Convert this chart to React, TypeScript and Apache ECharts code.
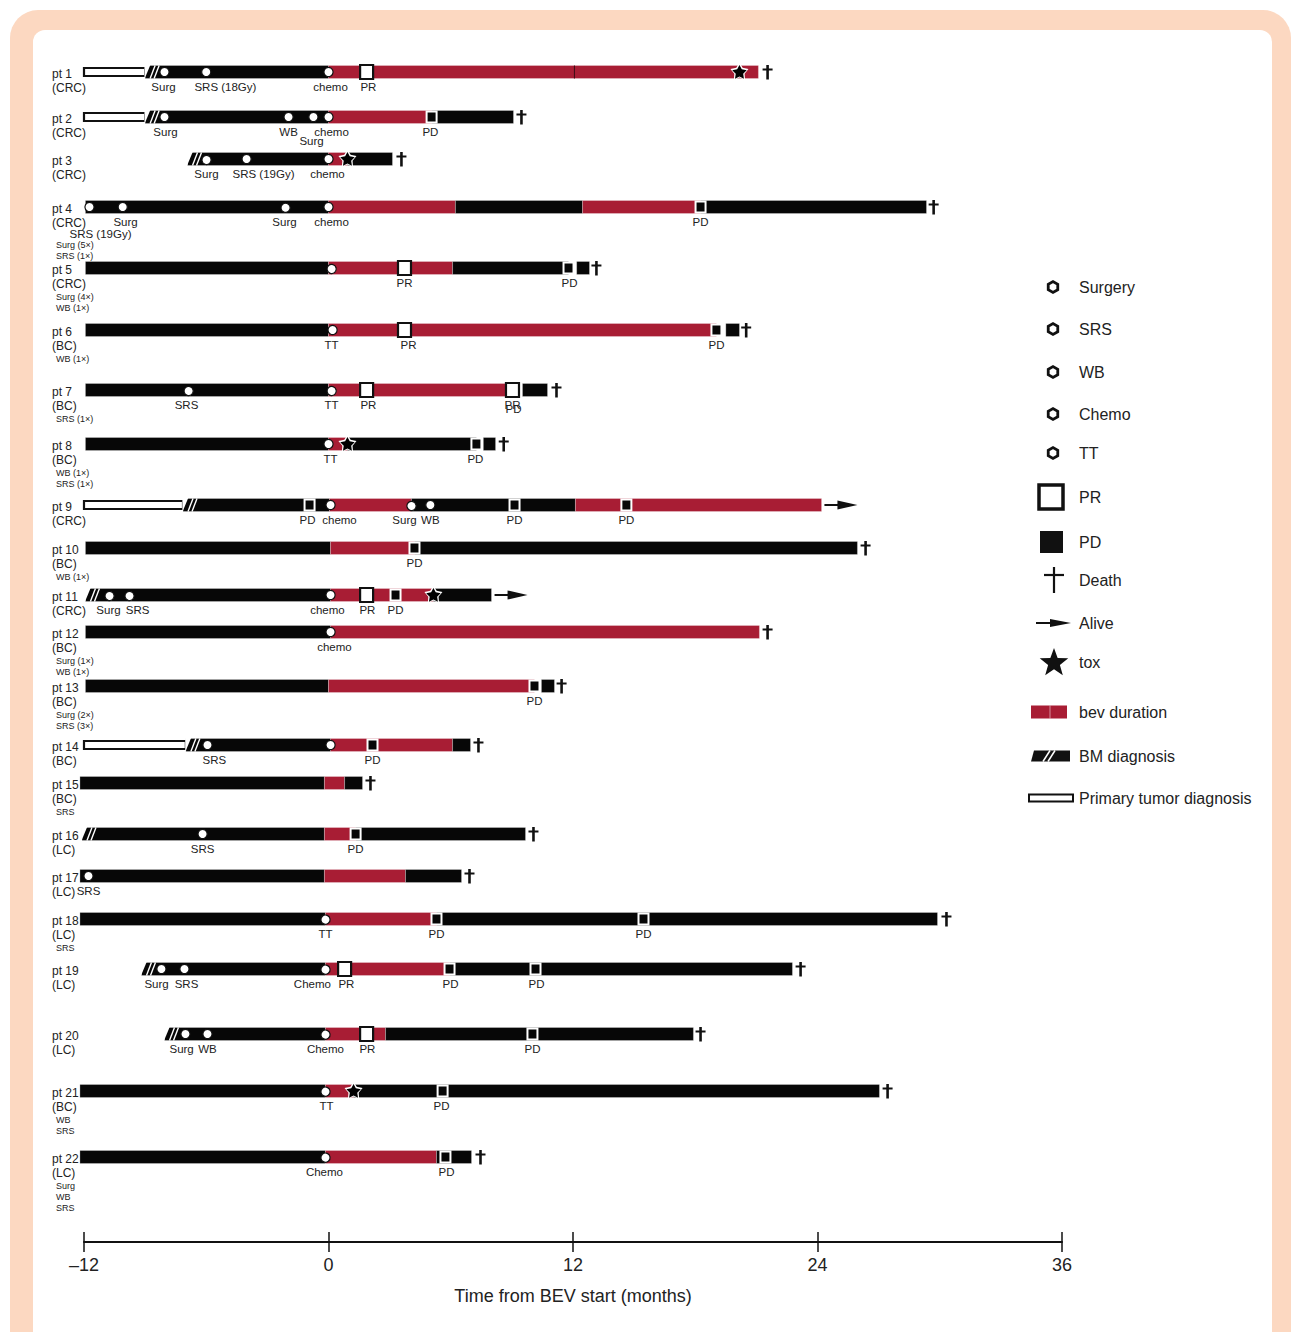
import React, { useEffect, useRef } from "react";
import * as echarts from "echarts";

// ---------- data ----------
const PATIENTS = ["pt 1","pt 2","pt 3","pt 4","pt 5","pt 6","pt 7","pt 8","pt 9","pt 10","pt 11","pt 12","pt 13","pt 14","pt 15","pt 16","pt 17","pt 18","pt 19","pt 20","pt 21","pt 22"];
const TUMOR = ["(CRC)","(CRC)","(CRC)","(CRC)","(CRC)","(BC)","(BC)","(BC)","(CRC)","(BC)","(CRC)","(BC)","(BC)","(BC)","(BC)","(LC)","(LC)","(LC)","(LC)","(LC)","(BC)","(LC)"];
const NOTES: [number, string[]][] = [
  [4, ["Surg (5×)", "SRS (1×)"]],
  [5, ["Surg (4×)", "WB (1×)"]],
  [6, ["WB (1×)"]],
  [7, ["SRS (1×)"]],
  [8, ["WB (1×)", "SRS (1×)"]],
  [10, ["WB (1×)"]],
  [12, ["Surg (1×)", "WB (1×)"]],
  [13, ["Surg (2×)", "SRS (3×)"]],
  [15, ["SRS"]],
  [18, ["SRS"]],
  [21, ["WB", "SRS"]],
  [22, ["Surg", "WB", "SRS"]],
];
const X_TICKS = [-12, 0, 12, 24, 36];

// [patient, start month, end month, kind]
const SEGMENTS: [number, number, number, string][] = [
  [1,-12,-9.0,"primary"],[1,-9.0,0,"black"],[1,0,21.1,"red"],
  [2,-12,-9.0,"primary"],[2,-9.0,0,"black"],[2,0,5.06,"red"],[2,5.06,9.08,"black"],
  [3,-6.92,0,"black"],[3,0,0.93,"red"],[3,0.93,3.14,"black"],
  [4,-11.93,0,"black"],[4,0,6.23,"red"],[4,6.23,12.47,"black"],[4,12.47,18.26,"red"],[4,18.26,29.35,"black"],
  [5,-11.93,0,"black"],[5,0,6.09,"red"],[5,6.09,11.78,"black"],[5,12.18,12.81,"black"],
  [6,-11.93,0,"black"],[6,0,19.04,"red"],[6,19.5,20.17,"black"],
  [7,-11.93,0,"black"],[7,0,9.03,"red"],[7,9.52,10.75,"black"],
  [8,-11.93,0,"black"],[8,0,0.93,"red"],[8,0.93,7.26,"black"],[8,7.6,8.2,"black"],
  [9,-12,-7.14,"primary"],[9,-7.14,0.05,"black"],[9,0.05,4.07,"red"],[9,4.07,12.12,"black"],[9,12.12,24.2,"red"],
  [10,-11.93,0.1,"black"],[10,0.1,4.22,"red"],[10,4.22,25.96,"black"],
  [11,-11.93,0.1,"black"],[11,0.1,5.15,"red"],[11,5.15,8.0,"black"],
  [12,-11.93,0.1,"black"],[12,0.1,21.15,"red"],
  [13,-11.93,0,"black"],[13,0,10.11,"red"],[13,10.45,11.09,"black"],
  [14,-12,-7.0,"primary"],[14,-7.0,0.1,"black"],[14,0.1,6.09,"red"],[14,6.09,6.97,"black"],
  [15,-12.2,-0.2,"black"],[15,-0.2,0.79,"red"],[15,0.79,1.67,"black"],
  [16,-12.1,-0.2,"black"],[16,-0.2,1.33,"red"],[16,1.33,9.67,"black"],
  [17,-12.2,-0.2,"black"],[17,-0.2,3.78,"red"],[17,3.78,6.53,"black"],
  [18,-12.2,-0.15,"black"],[18,-0.15,5.3,"red"],[18,5.3,29.89,"black"],
  [19,-9.18,-0.15,"black"],[19,-0.15,5.94,"red"],[19,5.94,22.77,"black"],
  [20,-8.05,-0.15,"black"],[20,-0.15,2.8,"red"],[20,2.8,17.91,"black"],
  [21,-12.2,-0.15,"black"],[21,-0.15,1.23,"red"],[21,1.23,27.04,"black"],
  [22,-12.2,-0.15,"black"],[22,-0.15,5.3,"red"],[22,5.3,7.02,"black"],
];

// [patient, month, kind]
const EVENTS: [number, number, string][] = [
  [1,-9.0,"bm"],[1,-8.05,"tx"],[1,-6.0,"tx"],[1,0,"tx"],[1,1.87,"PR"],[1,12.07,"sep"],[1,20.17,"tox"],[1,21.55,"death"],
  [2,-9.0,"bm"],[2,-8.05,"tx"],[2,-1.96,"tx"],[2,-0.74,"tx"],[2,0,"tx"],[2,5.06,"PD"],[2,9.47,"death"],
  [3,-6.92,"bm"],[3,-5.99,"tx"],[3,-4.02,"tx"],[3,0,"tx"],[3,0.93,"tox"],[3,3.58,"death"],
  [4,-11.73,"tx"],[4,-10.1,"tx"],[4,-2.11,"tx"],[4,0,"tx"],[4,18.26,"PD"],[4,29.7,"death"],
  [5,0.15,"tx"],[5,3.73,"PR"],[5,11.78,"PD"],[5,13.15,"death"],
  [6,0.2,"tx"],[6,3.73,"PR"],[6,19.04,"PD"],[6,20.5,"death"],
  [7,-6.87,"tx"],[7,0.15,"tx"],[7,1.87,"PR"],[7,9.03,"PR"],[7,11.19,"death"],
  [8,0,"tx"],[8,0.93,"tox"],[8,7.26,"PD"],[8,8.6,"death"],
  [9,-7.14,"bm"],[9,-0.93,"PD"],[9,0.1,"tx"],[9,4.07,"tx"],[9,5.0,"tx"],[9,9.13,"PD"],[9,14.62,"PD"],[9,24.34,"alive"],
  [10,4.22,"PD"],[10,26.36,"death"],
  [11,-11.93,"bm"],[11,-10.75,"tx"],[11,-9.77,"tx"],[11,0.1,"tx"],[11,1.87,"PR"],[11,3.29,"PD"],[11,5.15,"tox"],[11,8.15,"alive"],
  [12,0.1,"tx"],[12,21.55,"death"],
  [13,10.11,"PD"],[13,11.44,"death"],
  [14,-7.0,"bm"],[14,-5.94,"tx"],[14,0.1,"tx"],[14,2.16,"PD"],[14,7.36,"death"],
  [15,2.06,"death"],
  [16,-12.1,"bm"],[16,-6.18,"tx"],[16,1.33,"PD"],[16,10.06,"death"],
  [17,-11.78,"tx"],[17,6.92,"death"],
  [18,-0.15,"tx"],[18,5.3,"PD"],[18,15.46,"PD"],[18,30.33,"death"],
  [19,-9.18,"bm"],[19,-8.2,"tx"],[19,-7.07,"tx"],[19,-0.15,"tx"],[19,0.79,"PR"],[19,5.94,"PD"],[19,10.16,"PD"],[19,23.17,"death"],
  [20,-8.05,"bm"],[20,-7.02,"tx"],[20,-5.94,"tx"],[20,-0.15,"tx"],[20,1.87,"PR"],[20,10.01,"PD"],[20,18.26,"death"],
  [21,-0.15,"tx"],[21,1.23,"tox"],[21,5.6,"PD"],[21,27.44,"death"],
  [22,-0.15,"tx"],[22,5.74,"PD"],[22,7.46,"death"],
];

// [patient, month, text, line]
const EVENT_LABELS: [number, number, string, number][] = [
  [1,-8.1,"Surg",0],[1,-5.06,"SRS (18Gy)",0],[1,0.1,"chemo",0],[1,1.96,"PR",0],
  [2,-8.0,"Surg",0],[2,-1.96,"WB",0],[2,-0.83,"Surg",0.9],[2,0.15,"chemo",0],[2,5.0,"PD",0],
  [3,-5.99,"Surg",0],[3,-3.19,"SRS (19Gy)",0],[3,-0.05,"chemo",0],
  [4,-11.19,"SRS (19Gy)",1.2],[4,-9.96,"Surg",0],[4,-2.16,"Surg",0],[4,0.15,"chemo",0],[4,18.26,"PD",0],
  [5,3.73,"PR",0],[5,11.83,"PD",0],
  [6,0.15,"TT",0],[6,3.93,"PR",0],[6,19.04,"PD",0],
  [7,-6.97,"SRS",0],[7,0.15,"TT",0],[7,1.96,"PR",0],[7,9.03,"PR",0],[7,9.08,"PD",0.45],
  [8,0.1,"TT",0],[8,7.21,"PD",0],
  [9,-1.03,"PD",0],[9,0.54,"chemo",0],[9,3.73,"Surg",0],[9,5.0,"WB",0],[9,9.13,"PD",0],[9,14.62,"PD",0],
  [10,4.22,"PD",0],
  [11,-10.8,"Surg",0],[11,-9.37,"SRS",0],[11,-0.05,"chemo",0],[11,1.91,"PR",0],[11,3.29,"PD",0],
  [12,0.29,"chemo",0],
  [13,10.11,"PD",0],
  [14,-5.6,"SRS",0],[14,2.16,"PD",0],
  [16,-6.18,"SRS",0],[16,1.33,"PD",0],
  [17,-11.78,"SRS",0],
  [18,-0.15,"TT",0],[18,5.3,"PD",0],[18,15.46,"PD",0],
  [19,-8.44,"Surg",0],[19,-6.97,"SRS",0],[19,-0.79,"Chemo",0],[19,0.88,"PR",0],[19,5.99,"PD",0],[19,10.21,"PD",0],
  [20,-7.21,"Surg",0],[20,-5.94,"WB",0],[20,-0.15,"Chemo",0],[20,1.91,"PR",0],[20,10.01,"PD",0],
  [21,-0.1,"TT",0],[21,5.55,"PD",0],
  [22,-0.2,"Chemo",0],[22,5.79,"PD",0],
];

const LEGEND_ITEMS = ["Surgery","SRS","WB","Chemo","TT","PR","PD","Death","Alive","tox","bev duration","BM diagnosis","Primary tumor diagnosis"];

// ---------- layout ----------
const ROW_Y = [32,77,119,167,228,290,350,404,465,508,555,592,646,705,743,794,836,879,929,994,1051,1117];
const LEGEND_Y = [287,329,372,414,453,497,542,580,623,662,712,756,798];
const FONT = "'Liberation Sans', Arial, Helvetica, sans-serif";
const RED = "#a81d34";
const BLACK = "#070707";
const PEACH = "#fcd8c1";
const SEG_KINDS = ["black", "red", "primary"];
const EV_KINDS = ["tx", "PR", "PD", "tox", "death", "alive", "bm", "sep"];

function starPts(cx: number, cy: number, R: number, r: number) {
  const pts: number[][] = [];
  for (let i = 0; i < 10; i++) {
    const a = -Math.PI / 2 + (i * Math.PI) / 5;
    const rad = i % 2 === 0 ? R : r;
    pts.push([cx + rad * Math.cos(a), cy + rad * Math.sin(a)]);
  }
  return pts;
}
function hexPts(cx: number, cy: number, R: number) {
  const pts: number[][] = [];
  for (let i = 0; i < 6; i++) {
    const a = Math.PI / 6 + (i * Math.PI) / 3;
    pts.push([cx + R * Math.cos(a), cy + R * Math.sin(a)]);
  }
  return pts;
}
function txt(text: string, x: number, y: number, size: number, align = "center", color = "#222") {
  return {
    type: "text",
    x, y,
    style: { text, fill: color, fontSize: size, fontFamily: FONT, align, verticalAlign: "middle", textAlign: align, textVerticalAlign: "middle" },
  };
}

function buildLegend() {
  const els: any[] = [];
  const tx = 1079;
  LEGEND_ITEMS.forEach((name, i) => {
    els.push(txt(name, tx, LEGEND_Y[i], 16, "left"));
  });
  for (let i = 0; i < 5; i++) {
    els.push({ type: "polygon", shape: { points: hexPts(1053, LEGEND_Y[i], 5.5) }, style: { fill: "#fff", stroke: "#111", lineWidth: 2.8 } });
  }
  let y = LEGEND_Y[5];
  els.push({ type: "rect", shape: { x: 1039, y: y - 12, width: 24, height: 24 }, style: { fill: "#fff", stroke: "#111", lineWidth: 3.5 } });
  y = LEGEND_Y[6];
  els.push({ type: "rect", shape: { x: 1040, y: y - 11, width: 23, height: 22 }, style: { fill: "#111" } });
  y = LEGEND_Y[7];
  els.push({ type: "line", shape: { x1: 1054, y1: y - 13, x2: 1054, y2: y + 13 }, style: { stroke: "#111", lineWidth: 2.2 } });
  els.push({ type: "line", shape: { x1: 1044, y1: y - 5, x2: 1064, y2: y - 5 }, style: { stroke: "#111", lineWidth: 2.2 } });
  y = LEGEND_Y[8];
  els.push({ type: "line", shape: { x1: 1036, y1: y, x2: 1058, y2: y }, style: { stroke: "#111", lineWidth: 2 } });
  els.push({ type: "polygon", shape: { points: [[1050, y - 4], [1071, y], [1050, y + 4]] }, style: { fill: "#111" } });
  y = LEGEND_Y[9];
  els.push({ type: "polygon", shape: { points: starPts(1054, y + 1, 15, 6.2) }, style: { fill: "#111" } });
  y = LEGEND_Y[10];
  els.push({ type: "rect", shape: { x: 1031, y: y - 6.5, width: 36, height: 13 }, style: { fill: RED } });
  els.push({ type: "line", shape: { x1: 1050, y1: y - 6.5, x2: 1050, y2: y + 6.5 }, style: { stroke: "rgba(255,255,255,0.5)", lineWidth: 1 } });
  y = LEGEND_Y[11];
  els.push({ type: "polygon", shape: { points: [[1031, y + 5.5], [1034, y - 5.5], [1070, y - 5.5], [1070, y + 5.5]] }, style: { fill: "#111" } });
  els.push({ type: "line", shape: { x1: 1043, y1: y + 5.5, x2: 1050, y2: y - 5.5 }, style: { stroke: "#fff", lineWidth: 1.5 } });
  els.push({ type: "line", shape: { x1: 1048, y1: y + 5.5, x2: 1055, y2: y - 5.5 }, style: { stroke: "#fff", lineWidth: 1.5 } });
  y = LEGEND_Y[12];
  els.push({ type: "rect", shape: { x: 1029, y: y - 3.5, width: 44, height: 7 }, style: { fill: "#fff", stroke: "#111", lineWidth: 2 } });
  return els;
}

function renderSegment(params: any, api: any) {
  const s = api.coord([api.value(0), api.value(2)]);
  const e = api.coord([api.value(1), api.value(2)]);
  const k = SEG_KINDS[api.value(3)];
  if (k === "primary") {
    return { type: "rect", shape: { x: s[0], y: s[1] - 4, width: e[0] - s[0], height: 8 }, style: { fill: "#fff", stroke: "#111", lineWidth: 2.2 } };
  }
  return {
    type: "rect",
    shape: { x: s[0], y: s[1] - 6.5, width: e[0] - s[0], height: 13 },
    style: { fill: k === "red" ? RED : BLACK, stroke: "rgba(255,255,255,0.45)", lineWidth: 0.6 },
  };
}

function renderEvent(params: any, api: any) {
  const p = api.coord([api.value(0), api.value(1)]);
  const x = p[0], y = p[1];
  const k = EV_KINDS[api.value(2)];
  switch (k) {
    case "tx":
      return { type: "circle", shape: { cx: x, cy: y, r: 4.6 }, style: { fill: "#fff", stroke: "#111", lineWidth: 1.2 } };
    case "PR":
      return { type: "rect", shape: { x: x - 6.5, y: y - 7, width: 13, height: 14 }, style: { fill: "#fff", stroke: "#111", lineWidth: 2.2 } };
    case "PD":
      return { type: "rect", shape: { x: x - 5, y: y - 5.5, width: 10, height: 11 }, style: { fill: BLACK, stroke: "#fff", lineWidth: 2 } };
    case "tox":
      return {
        type: "group",
        children: [
          { type: "polygon", shape: { points: starPts(x, y, 9.5, 5.4) }, style: { fill: "#fff" } },
          { type: "polygon", shape: { points: starPts(x, y + 0.5, 7.6, 3.9) }, style: { fill: "#000" } },
        ],
      };
    case "death":
      return {
        type: "group",
        children: [
          { type: "line", shape: { x1: x, y1: y - 7, x2: x, y2: y + 7.5 }, style: { stroke: "#111", lineWidth: 2.6 } },
          { type: "line", shape: { x1: x - 5, y1: y - 2.5, x2: x + 5, y2: y - 2.5 }, style: { stroke: "#111", lineWidth: 2 } },
        ],
      };
    case "alive":
      return {
        type: "group",
        children: [
          { type: "line", shape: { x1: x, y1: y, x2: x + 20, y2: y }, style: { stroke: "#111", lineWidth: 2 } },
          { type: "polygon", shape: { points: [[x + 13, y - 4.5], [x + 33, y], [x + 13, y + 4.5]] }, style: { fill: "#111" } },
        ],
      };
    case "bm":
      return {
        type: "group",
        children: [
          { type: "polygon", shape: { points: [[x - 0.6, y - 7], [x + 5.2, y - 7], [x - 0.6, y + 7]] }, style: { fill: "#fff" } },
          { type: "line", shape: { x1: x + 5, y1: y + 6.5, x2: x + 10, y2: y - 6.5 }, style: { stroke: "#fff", lineWidth: 1.4 } },
          { type: "line", shape: { x1: x + 9, y1: y + 6.5, x2: x + 14, y2: y - 6.5 }, style: { stroke: "#fff", lineWidth: 1.4 } },
        ],
      };
    case "sep":
      return { type: "line", shape: { x1: x, y1: y - 6.5, x2: x, y2: y + 6.5 }, style: { stroke: "#3b0b14", lineWidth: 1 } };
  }
  return null;
}

function renderEventLabel(params: any, api: any) {
  const L = EVENT_LABELS[params.dataIndex];
  const p = api.coord([api.value(0), api.value(1)]);
  return txt(L[2], p[0], p[1] + 14.5 + L[3] * 10, 11.5);
}

function renderPatientLabel(params: any, api: any) {
  const i = params.dataIndex;
  const p = api.coord([api.value(0), api.value(1)]);
  const y = p[1];
  const children: any[] = [txt(PATIENTS[i], 52, y + 2, 12, "left"), txt(TUMOR[i], 52, y + 16, 12, "left")];
  const note = NOTES.find((n) => n[0] === i + 1);
  if (note) {
    const extra = EVENT_LABELS.some((l) => l[0] === i + 1 && l[3] >= 1) ? 9 : 0;
    note[1].forEach((t, j) => children.push(txt(t, 56, y + 29 + extra + j * 11, 9, "left")));
  }
  return { type: "group", children };
}

export default function App() {
  const ref = useRef<HTMLDivElement>(null);
  useEffect(() => {
    const chart = echarts.init(ref.current!, null, { renderer: "svg" });
    const tickStyle = { color: "#111", width: 1.5 };
    const gridBox = { left: 84, right: 229, top: 40, bottom: 90 };
    const xMin = X_TICKS[0];
    const xMax = X_TICKS[X_TICKS.length - 1];
    const option: any = {
      animation: false,
      grid: [gridBox, { ...gridBox }],
      xAxis: [
        {
          type: "value", gridIndex: 0, min: xMin, max: xMax, interval: 12, position: "bottom",
          splitLine: { show: false },
          axisLine: { show: true, onZero: false, lineStyle: { color: "#111", width: 2 } },
          axisTick: { show: true, length: 10, lineStyle: tickStyle },
          axisLabel: {
            formatter: (v: number) => (v < 0 ? "–" + Math.abs(v) : String(v)),
            fontSize: 18, color: "#222", margin: 14, fontFamily: FONT,
          },
          name: "Time from BEV start (months)", nameLocation: "middle", nameGap: 45,
          nameTextStyle: { fontSize: 18, color: "#222", fontFamily: FONT },
        },
        {
          type: "value", gridIndex: 1, min: xMin, max: xMax, interval: 12, position: "bottom",
          axisLine: { show: false, onZero: false }, splitLine: { show: false }, axisLabel: { show: false },
          axisTick: { show: true, inside: true, length: 10, lineStyle: tickStyle },
        },
      ],
      yAxis: [
        { type: "value", gridIndex: 0, min: 0, max: 1202, inverse: true, show: false },
        { type: "value", gridIndex: 1, min: 0, max: 1202, inverse: true, show: false },
      ],
      series: [
        {
          type: "custom", xAxisIndex: 0, yAxisIndex: 0, renderItem: renderSegment, encode: { x: [0, 1], y: 2 },
          data: SEGMENTS.map((s) => [s[1], s[2], ROW_Y[s[0] - 1], SEG_KINDS.indexOf(s[3])]),
        },
        {
          type: "custom", xAxisIndex: 0, yAxisIndex: 0, renderItem: renderEvent, encode: { x: 0, y: 1 },
          data: EVENTS.map((e) => [e[1], ROW_Y[e[0] - 1], EV_KINDS.indexOf(e[2])]),
        },
        {
          type: "custom", xAxisIndex: 0, yAxisIndex: 0, renderItem: renderEventLabel, encode: { x: 0, y: 1 },
          data: EVENT_LABELS.map((l) => [l[1], ROW_Y[l[0] - 1]]),
        },
        {
          type: "custom", xAxisIndex: 0, yAxisIndex: 0, renderItem: renderPatientLabel, encode: { x: 0, y: 1 },
          data: ROW_Y.map((y) => [-12, y]),
        },
      ],
      graphic: buildLegend(),
    };
    chart.setOption(option);
    return () => chart.dispose();
  }, []);
  return (
    <div style={{ position: "absolute", left: 0, top: 0, width: 1291, height: 1332, overflow: "hidden", background: "#fff" }}>
      <div style={{ position: "absolute", left: 10, top: 10, width: 1281, height: 1380, borderRadius: 28, background: PEACH }} />
      <div style={{ position: "absolute", left: 33, top: 30, width: 1239, height: 1360, borderRadius: 12, background: "#fff" }} />
      <div ref={ref} style={{ position: "absolute", left: 0, top: 0, width: 1291, height: 1332 }} />
    </div>
  );
}
